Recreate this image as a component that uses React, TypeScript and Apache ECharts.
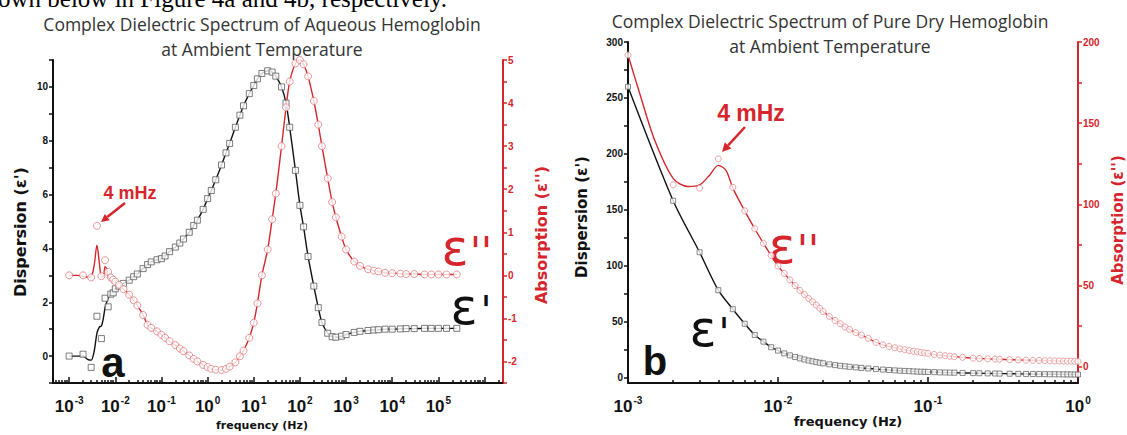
import { useEffect, useRef } from 'react';
import * as echarts from 'echarts';

// ---------- Panel a: aqueous hemoglobin ----------
const aFreq = [
  0.001, 0.002, 0.003, 0.004, 0.005, 0.006, 0.007, 0.008, 0.009,
  0.01, 0.012, 0.015, 0.02, 0.025, 0.03, 0.04, 0.05, 0.06, 0.08,
  0.1, 0.12, 0.15, 0.2, 0.25, 0.3, 0.4, 0.5, 0.6, 0.8,
  1, 1.2, 1.5, 2, 2.5, 3, 4, 5, 6, 8,
  10, 12, 15, 20, 25, 30, 40, 50, 60, 80,
  100, 120, 150, 200, 250, 300, 400, 500, 600, 800,
  1000, 1500, 2000, 3000, 4000, 5000, 7000,
  10000, 15000, 20000, 30000, 50000, 70000, 100000, 150000, 250000,
];
const aEps1 = [
  0.0, 0.07, -0.42, 1.48, 0.65, 2.15, 1.83, 2.3, 2.35,
  2.5, 2.6, 2.7, 2.82, 2.95, 3.05, 3.25, 3.4, 3.5, 3.58,
  3.62, 3.72, 3.88, 4.05, 4.2, 4.35, 4.6, 4.85, 5.05, 5.45,
  5.85, 6.15, 6.55, 7.1, 7.55, 7.9, 8.5, 8.95, 9.3, 9.75,
  10.05, 10.3, 10.5, 10.6, 10.55, 10.4, 10.0, 9.4, 8.5, 6.9,
  5.6, 4.8, 3.7, 2.6, 1.8, 1.25, 0.85, 0.72, 0.7, 0.74,
  0.8, 0.88, 0.92, 0.95, 0.97, 0.98, 1.0,
  1.0, 1.01, 1.02, 1.02, 1.03, 1.03, 1.03, 1.03, 1.03,
];
const aEps2 = [
  0.0, 0.0, -0.05, 1.15, -0.02, 0.35, 0.08, -0.05, -0.1,
  -0.15, -0.22, -0.32, -0.45, -0.58, -0.7, -0.92, -1.15, -1.22, -1.3,
  -1.38, -1.45, -1.53, -1.62, -1.7, -1.76, -1.86, -1.94, -2.0, -2.08,
  -2.13, -2.17, -2.19, -2.2, -2.17, -2.12, -2.02, -1.88, -1.75, -1.45,
  -1.1, -0.65, 0.0, 0.6, 1.3, 1.9, 3.0, 3.9, 4.5, 4.92,
  5.0, 4.9, 4.62, 4.05, 3.5, 3.0, 2.25, 1.7, 1.35, 0.9,
  0.6, 0.32, 0.22, 0.14, 0.11, 0.09, 0.06,
  0.05, 0.04, 0.03, 0.03, 0.02, 0.02, 0.02, 0.02, 0.02,
];
// smooth fit curves drawn through the noisy low-frequency region
const aFitFreq = [0.001, 0.0015, 0.002, 0.0025, 0.003, 0.0035, 0.004, 0.0045, 0.005, 0.0055, 0.006, 0.0065, 0.007, 0.008, 0.009];
const aEps1Fit = [0, 0, 0, -0.12, -0.15, 0.2, 0.85, 1.08, 1.12, 1.4, 1.8, 2.0, 2.15, 2.28, 2.4];
const aEps2Fit = [0, 0, -0.02, -0.04, -0.03, 0.25, 0.7, 0.3, -0.03, -0.03, 0.2, 0.15, -0.03, -0.1, -0.13];

const aXLabelExp = [-3, -2, -1, 0, 1, 2, 3, 4, 5];
const aXMajorExp = [-3, -2, -1, 0, 1, 2, 3, 4, 5, 6];
const aLeftLabels = [0, 2, 4, 6, 8, 10];
const aLeftTicks = [-1, 0, 1, 2, 3, 4, 5, 6, 7, 8, 9, 10, 11];
const aRightLabels = [-2, -1, 0, 1, 2, 3, 4, 5];
const aRightTicks = [-2.5, -2, -1.5, -1, -0.5, 0, 0.5, 1, 1.5, 2, 2.5, 3, 3.5, 4, 4.5, 5];

// ---------- Panel b: pure dry hemoglobin ----------
const bFreq = [
  0.001, 0.002, 0.003, 0.004, 0.005, 0.006, 0.007, 0.008, 0.009,
  0.01, 0.011, 0.012, 0.013, 0.014, 0.015, 0.016, 0.017, 0.018, 0.019, 0.02,
  0.022, 0.024, 0.026, 0.028, 0.03, 0.033, 0.036, 0.04, 0.045, 0.05, 0.055, 0.06, 0.065, 0.07, 0.075, 0.08, 0.085, 0.09, 0.095,
  0.1, 0.11, 0.12, 0.13, 0.14, 0.15, 0.17, 0.2, 0.22, 0.25, 0.28, 0.3, 0.35, 0.4, 0.45, 0.5, 0.55, 0.6, 0.65, 0.7, 0.75, 0.8, 0.85, 0.9, 0.95, 1.0,
];
const bEps1 = [
  260, 158, 112, 78, 61, 48, 38, 32, 27,
  24, 21.5, 19.7, 18.2, 17, 16, 15.1, 14.4, 13.7, 13.1, 12.6,
  11.7, 11, 10.4, 9.9, 9.5, 9, 8.5, 8, 7.4, 7, 6.6, 6.3, 6, 5.8, 5.6, 5.4, 5.2, 5.1, 5,
  4.9, 4.7, 4.5, 4.4, 4.3, 4.2, 4, 3.8, 3.7, 3.6, 3.5, 3.4, 3.3, 3.2, 3.1, 3.0, 2.95, 2.9, 2.85, 2.8, 2.75, 2.7, 2.7, 2.65, 2.6, 2.6,
];
const bEps2 = [
  192, 112, 110, 128, 110.5, 96, 85, 76, 68.5,
  62, 57.5, 53.5, 50, 47, 44.5, 42, 40, 38, 36, 34,
  31, 28.5, 26.5, 24.5, 23, 21, 19.5, 17.5, 15, 13.5, 12.5, 11.7, 11, 10.5, 10, 9.6, 9.2, 8.8, 8.5,
  8.2, 7.6, 7.2, 6.8, 6.5, 6.2, 5.8, 5.3, 5.1, 4.9, 4.7, 4.6, 4.4, 4.2, 4.1, 4.0, 3.9, 3.8, 3.7, 3.6, 3.55, 3.5, 3.45, 3.4, 3.35, 3.3,
];
const bFitFreq = [0.001, 0.0012, 0.0015, 0.002, 0.0025, 0.003, 0.0035, 0.004, 0.0045, 0.005];
const bEps2Fit = [192, 168, 140, 116, 111, 112, 118, 124, 121, 110];

const bXLabelExp = [-3, -2, -1, 0];
const bLeftLabels = [0, 50, 100, 150, 200, 250, 300];
const bLeftTicks = [0, 25, 50, 75, 100, 125, 150, 175, 200, 225, 250, 275, 300];
const bRightLabels = [0, 50, 100, 150, 200];
const bRightTicks = [0, 25, 50, 75, 100, 125, 150, 175, 200];

// ---------- styling ----------
const RED = '#d6262d';
const BLACK = '#111111';
const SANS = '"Liberation Sans", Arial, sans-serif';
const AXNAME = '"DejaVu Sans", sans-serif';
const TITLE = '17.5px "Open Sans", sans-serif';

const lg = (f: number) => Math.log10(f);
const pairs = (fs: number[], vs: number[]) => fs.map((f, i) => [lg(f), vs[i]]);
const minorLogTicks = (lo: number, hi: number) => {
  const out: number[] = [];
  for (let e = Math.floor(lo); e < Math.ceil(hi); e++) {
    for (let k = 2; k <= 9; k++) {
      const v = e + Math.log10(k);
      if (v > lo && v < hi) out.push(v);
    }
  }
  return out;
};

const supRich = {
  b: { fontSize: 17, fontWeight: 'bold', fontFamily: SANS, color: BLACK, lineHeight: 20, verticalAlign: 'bottom' },
  s: { fontSize: 10, fontWeight: 'bold', fontFamily: SANS, color: BLACK, lineHeight: 11, verticalAlign: 'top', padding: [0, 0, 0, 1] },
};

function xAxesFor(gridIndex: number, min: number, max: number, labels: number[], majors: number[]) {
  return [
    {
      type: 'value', gridIndex, position: 'bottom', min, max,
      splitLine: { show: false },
      axisLine: { onZero: false, lineStyle: { color: BLACK, width: 2 } },
      axisTick: { inside: true, length: 3, customValues: minorLogTicks(min, max), lineStyle: { color: BLACK, width: 1.5 } },
      axisLabel: {
        customValues: labels, margin: 12,
        formatter: (v: number) => `{b|10}{s|${Math.round(v)}}`,
        rich: supRich,
      },
    },
    {
      type: 'value', gridIndex, position: 'bottom', min, max,
      splitLine: { show: false },
      axisLine: { show: false, onZero: false },
      axisTick: { inside: true, length: 6, customValues: majors.filter((m) => m >= min && m <= max), lineStyle: { color: BLACK, width: 1.5 } },
      axisLabel: { show: false },
    },
  ];
}

function yAxis(gridIndex: number, position: 'left' | 'right', min: number, max: number, ticks: number[], labels: number[], color: string) {
  return {
    type: 'value', gridIndex, position, min, max,
    splitLine: { show: false },
    axisLine: { show: true, onZero: false, lineStyle: { color, width: 2 } },
    axisTick: { show: true, inside: false, length: 4, customValues: ticks, lineStyle: { color, width: 1.5 } },
    axisLabel: {
      customValues: labels, margin: 5, color,
      fontSize: 10, fontWeight: 'bold', fontFamily: SANS,
    },
  };
}

const txt = (x: number, y: number, text: string, font: string, fill: string, extra: any = {}) => ({
  type: 'text', x, y, silent: true, ...extra,
  style: { text, font, fill, align: 'center', verticalAlign: 'middle', ...(extra.style || {}) },
});

const arrow = (x1: number, y1: number, x2: number, y2: number, head: number, half: number) => {
  const dx = x2 - x1, dy = y2 - y1;
  const len = Math.sqrt(dx * dx + dy * dy);
  const ux = dx / len, uy = dy / len;
  const bx = x2 - ux * head, by = y2 - uy * head;
  const px = -uy, py = ux;
  return [
    { type: 'line', silent: true, shape: { x1, y1, x2: bx, y2: by }, style: { stroke: RED, lineWidth: 2.5 } },
    { type: 'polygon', silent: true, shape: { points: [[x2, y2], [bx + px * half, by + py * half], [bx - px * half, by - py * half]] }, style: { fill: RED } },
  ];
};

export default function App() {
  const ref = useRef<HTMLDivElement>(null);

  useEffect(() => {
    if (!ref.current) return;
    const chart = echarts.init(ref.current, undefined, { renderer: 'svg' });

    const aEps1Line = [...pairs(aFitFreq, aEps1Fit), ...pairs(aFreq, aEps1).filter((p) => p[0] >= -2.0001)];
    const aEps2Line = [...pairs(aFitFreq, aEps2Fit), ...pairs(aFreq, aEps2).filter((p) => p[0] >= -2.0001)];
    const bEps2Line = [...pairs(bFitFreq, bEps2Fit), ...pairs(bFreq, bEps2).filter((p) => p[0] > lg(0.0051))];

    const option: any = {
      animation: false,
      backgroundColor: '#ffffff',
      grid: [
        { left: 53, top: 60, width: 450, height: 323 },
        { left: 628, top: 42, width: 450, height: 341 },
      ],
      xAxis: [
        ...xAxesFor(0, -3.35, 6.4, aXLabelExp, aXMajorExp),
        ...xAxesFor(1, -3, 0, bXLabelExp, bXLabelExp),
      ],
      yAxis: [
        yAxis(0, 'left', -1, 11, aLeftTicks, aLeftLabels, BLACK),
        yAxis(0, 'right', -2.5, 5, aRightTicks, aRightLabels, RED),
        yAxis(1, 'left', -5, 300, bLeftTicks, bLeftLabels, BLACK),
        yAxis(1, 'right', -10, 200, bRightTicks, bRightLabels, RED),
      ],
      series: [
        // panel a
        { name: "ε' fit (a)", type: 'line', xAxisIndex: 0, yAxisIndex: 0, data: aEps1Line, smooth: 0.3, symbol: 'none', lineStyle: { color: BLACK, width: 1.4 }, z: 2 },
        { name: "ε'' fit (a)", type: 'line', xAxisIndex: 0, yAxisIndex: 1, data: aEps2Line, smooth: 0.3, symbol: 'none', lineStyle: { color: RED, width: 1.4 }, z: 2 },
        { name: "ε' (a)", type: 'scatter', xAxisIndex: 0, yAxisIndex: 0, data: pairs(aFreq, aEps1), symbol: 'rect', symbolSize: 6, itemStyle: { color: '#ffffff', borderColor: '#5c5c5c', borderWidth: 1 }, z: 3 },
        { name: "ε'' (a)", type: 'scatter', xAxisIndex: 0, yAxisIndex: 1, data: pairs(aFreq, aEps2), symbol: 'circle', symbolSize: 7, itemStyle: { color: '#ffffff', borderColor: '#e27a7e', borderWidth: 1 }, z: 4 },
        // panel b
        { name: "ε' fit (b)", type: 'line', xAxisIndex: 2, yAxisIndex: 2, data: pairs(bFreq, bEps1), smooth: 0.3, symbol: 'none', lineStyle: { color: BLACK, width: 1.4 }, z: 2 },
        { name: "ε'' fit (b)", type: 'line', xAxisIndex: 2, yAxisIndex: 3, data: bEps2Line, smooth: 0.3, symbol: 'none', lineStyle: { color: RED, width: 1.4 }, z: 2 },
        { name: "ε' (b)", type: 'scatter', xAxisIndex: 2, yAxisIndex: 2, data: pairs(bFreq, bEps1), symbol: 'rect', symbolSize: 5, itemStyle: { color: '#ffffff', borderColor: '#6a6a6a', borderWidth: 1 }, z: 3 },
        { name: "ε'' (b)", type: 'scatter', xAxisIndex: 2, yAxisIndex: 3, data: pairs(bFreq, bEps2), symbol: 'circle', symbolSize: 6, itemStyle: { color: '#ffffff', borderColor: '#e58a8d', borderWidth: 1 }, z: 4 },
      ],
      graphic: [
        // caption line of the source document, cut at the top edge as in the reference
        { type: 'text', x: -2, y: 11, silent: true, style: { text: 'own below in Figure 4a and 4b, respectively.', font: '25px "Liberation Serif", serif', fill: '#000', align: 'left', verticalAlign: 'bottom' } },
        // titles
        txt(262, 24, 'Complex Dielectric Spectrum of Aqueous Hemoglobin', TITLE, '#333'),
        txt(262, 49, 'at Ambient Temperature', TITLE, '#333'),
        txt(830, 21, 'Complex Dielectric Spectrum of Pure Dry Hemoglobin', TITLE, '#333'),
        txt(830, 46, 'at Ambient Temperature', TITLE, '#333'),
        // axis names
        txt(20, 232, "Dispersion (ε')", `bold 16px ${AXNAME}`, BLACK, { rotation: Math.PI / 2 }),
        txt(541, 235, "Absorption (ε'')", `bold 16px ${AXNAME}`, RED, { rotation: Math.PI / 2 }),
        txt(262, 425, 'frequency (Hz)', `bold 11px ${AXNAME}`, BLACK),
        txt(582, 217, "Dispersion (ε')", `bold 15px ${AXNAME}`, BLACK, { rotation: Math.PI / 2 }),
        txt(1118, 220, "Absorption (ε'')", `bold 15px ${AXNAME}`, RED, { rotation: Math.PI / 2 }),
        txt(848, 421, 'frequency (Hz)', `bold 13px ${AXNAME}`, BLACK),
        // annotations panel a
        txt(130, 193, '4 mHz', `bold 18px ${SANS}`, RED),
        ...arrow(125, 203, 101, 222, 8, 4),
        txt(455, 248, 'ε', '50px "DejaVu Sans", sans-serif', RED),
        txt(481, 252, "''", '40px "DejaVu Sans", sans-serif', RED),
        txt(464, 307, 'ε', '50px "DejaVu Sans", sans-serif', BLACK),
        txt(486, 311, "'", '40px "DejaVu Sans", sans-serif', BLACK),
        txt(113, 362, 'a', `bold 42px ${SANS}`, BLACK),
        // annotations panel b
        txt(751, 113, '4 mHz', `bold 23px ${SANS}`, RED),
        ...arrow(745, 127, 722, 152, 9, 4.5),
        txt(782, 246, 'ε', '50px "DejaVu Sans", sans-serif', RED),
        txt(808, 250, "''", '40px "DejaVu Sans", sans-serif', RED),
        txt(703, 329, 'ε', '50px "DejaVu Sans", sans-serif', BLACK),
        txt(724, 333, "'", '40px "DejaVu Sans", sans-serif', BLACK),
        txt(655, 361, 'b', `bold 40px ${SANS}`, BLACK),
      ],
    };

    chart.setOption(option);
    return () => chart.dispose();
  }, []);

  return <div ref={ref} style={{ position: 'absolute', left: 0, top: 0, width: 1127, height: 435 }} />;
}
